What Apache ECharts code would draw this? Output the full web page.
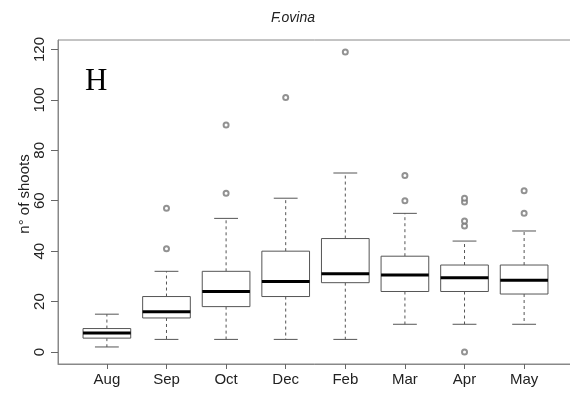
<!DOCTYPE html>
<html>
<head>
<meta charset="utf-8">
<script src="https://cdn.jsdelivr.net/npm/echarts@6/dist/echarts.min.js"></script>
<style>
  html, body { margin: 0; padding: 0; background: #fff; }
  #chart { width: 570px; height: 399px; }
</style>
</head>
<body>
<div id="chart"></div>
<script>
// 数据：每个月份的箱线图五数 + 离群点
var months = ['Aug', 'Sep', 'Oct', 'Dec', 'Feb', 'Mar', 'Apr', 'May'];
var lowWhisker  = [2, 5, 5, 5, 5, 11, 11, 11];
var q1          = [5.5, 13.5, 18, 22, 27.5, 24, 24, 23];
var median      = [7.5, 16, 24, 28, 31, 30.5, 29.5, 28.5];
var q3          = [9.3, 22, 32, 40, 45, 38, 34.5, 34.5];
var highWhisker = [15, 32, 53, 61, 71, 55, 44, 48];
var outliers    = [[], [41, 57], [63, 90], [101], [119], [60, 70], [0, 50, 52, 59.5, 61], [55, 64]];
var yTicks = [0, 20, 40, 60, 80, 100, 120];

var boxData = months.map(function (m, i) {
  return [i + 1, lowWhisker[i], q1[i], median[i], q3[i], highWhisker[i]];
});
var outlierData = [];
outliers.forEach(function (list, i) {
  list.forEach(function (v) { outlierData.push([i + 1, v]); });
});

var myChart = echarts.init(document.getElementById('chart'));

function renderBox(params, api) {
  var x = api.value(0);
  var pLo = api.coord([x, api.value(1)]);
  var pQ1 = api.coord([x, api.value(2)]);
  var pMed = api.coord([x, api.value(3)]);
  var pQ3 = api.coord([x, api.value(4)]);
  var pHi = api.coord([x, api.value(5)]);
  var w = api.size([0.8, 0])[0];
  var cx = pLo[0];
  var lineStyle = { stroke: '#555', lineWidth: 1, fill: null };
  var dashed = { stroke: '#555', lineWidth: 1, lineDash: [3, 3], fill: null };
  return {
    type: 'group',
    children: [
      { type: 'line', shape: { x1: cx, y1: pQ3[1], x2: cx, y2: pHi[1] }, style: dashed },
      { type: 'line', shape: { x1: cx, y1: pQ1[1], x2: cx, y2: pLo[1] }, style: dashed },
      { type: 'line', shape: { x1: cx - w / 4, y1: pHi[1], x2: cx + w / 4, y2: pHi[1] }, style: lineStyle },
      { type: 'line', shape: { x1: cx - w / 4, y1: pLo[1], x2: cx + w / 4, y2: pLo[1] }, style: lineStyle },
      { type: 'rect', shape: { x: cx - w / 2, y: pQ3[1], width: w, height: pQ1[1] - pQ3[1] },
        style: { stroke: '#555', lineWidth: 1, fill: '#fff' } },
      { type: 'line', shape: { x1: cx - w / 2, y1: pMed[1], x2: cx + w / 2, y2: pMed[1] },
        style: { stroke: '#000', lineWidth: 3 } }
    ]
  };
}

var option = {
  animation: false,
  title: {
    text: 'F.ovina',
    left: 288,
    textAlign: 'center',
    top: 6,
    textStyle: { fontFamily: 'Liberation Sans', fontStyle: 'italic', fontWeight: 'normal', fontSize: 14, color: '#222' }
  },
  graphic: [{
    type: 'text', left: 85, top: 66,
    style: { text: 'H', font: '31px "Liberation Serif"', fill: '#000' }
  }],
  grid: {
    left: 58, top: 40, width: 515, bottom: 35,
    outerBoundsMode: 'none',
    containLabel: false,
    show: true, borderColor: '#888', borderWidth: 1, backgroundColor: '#fff'
  },
  xAxis: {
    type: 'value',
    min: 0.18,
    max: 8.82,
    splitLine: { show: false },
    axisLine: { show: true, onZero: false, lineStyle: { color: '#888' } },
    axisTick: { show: true, customValues: [1, 2, 3, 4, 5, 6, 7, 8], length: 5, lineStyle: { color: '#666' } },
    axisLabel: {
      customValues: [1, 2, 3, 4, 5, 6, 7, 8],
      formatter: function (v) { return months[Math.round(v) - 1]; },
      margin: 8, fontFamily: 'Liberation Sans', fontSize: 15, color: '#222'
    }
  },
  yAxis: {
    type: 'value',
    min: -4.76,
    max: 123.76,
    name: 'n° of shoots',
    nameLocation: 'middle',
    nameRotate: 90,
    nameGap: 26,
    nameMoveOverlap: false,
    nameTextStyle: { fontFamily: 'Liberation Sans', fontSize: 15, color: '#222', padding: [0, 0, 0, 16] },
    splitLine: { show: false },
    axisLine: { show: true, onZero: false, lineStyle: { color: '#888' } },
    axisTick: { show: true, customValues: yTicks, length: 7, lineStyle: { color: '#666' } },
    axisLabel: {
      customValues: yTicks, rotate: 90, margin: 11,
      fontFamily: 'Liberation Sans', fontSize: 15, color: '#222'
    }
  },
  series: [{
    type: 'custom',
    renderItem: renderBox,
    encode: { x: 0, y: [1, 2, 3, 4, 5] },
    data: boxData,
    z: 2
  }, {
    type: 'scatter',
    symbol: 'emptyCircle',
    symbolSize: 5,
    itemStyle: { color: '#777', borderColor: '#777', borderWidth: 0.8 },
    data: outlierData,
    z: 3
  }]
};

myChart.setOption(option);
</script>
</body>
</html>
